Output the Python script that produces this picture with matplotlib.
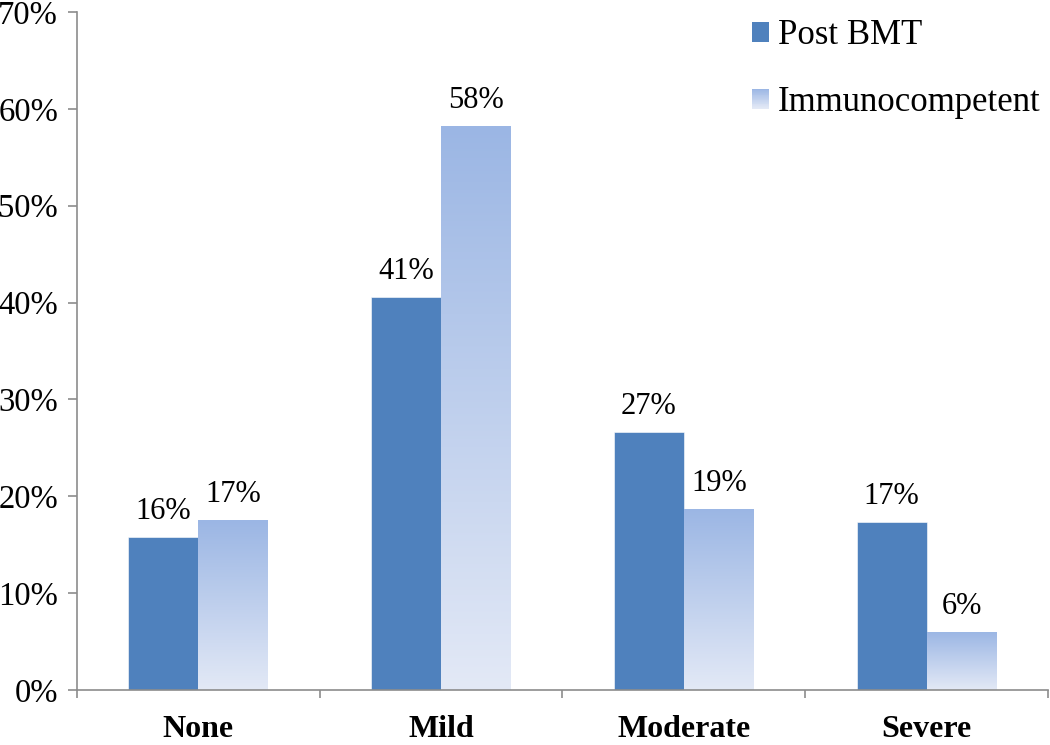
import numpy as np
import matplotlib
matplotlib.use("Agg")
import matplotlib.pyplot as plt
from matplotlib.colors import LinearSegmentedColormap
from matplotlib.patches import Rectangle, Patch
from matplotlib.legend_handler import HandlerBase

categories = ["None", "Mild", "Moderate", "Severe"]
post_bmt = [15.8, 40.6, 26.6, 17.3]
immuno = [17.5, 58.2, 18.7, 6.0]
post_labels = ["16%", "41%", "27%", "17%"]
immuno_labels = ["17%", "58%", "19%", "6%"]
yticks = [0, 10, 20, 30, 40, 50, 60, 70]
ytick_labels = ["0%", "10%", "20%", "30%", "40%", "50%", "60%", "70%"]
series_names = ["Post BMT", "Immunocompetent"]

plt.rcParams['font.family'] = ['Liberation Serif', 'DejaVu Serif']

solid = "#4F81BD"
grad = LinearSegmentedColormap.from_list("grad", ["#E3E9F6", "#9BB6E4"])
axis_gray = "#8C8C8C"


class GradHandler(HandlerBase):
    # legend key drawn as a stack of thin strips, light at the bottom
    def create_artists(self, legend, orig_handle, xdescent, ydescent,
                       width, height, fontsize, trans):
        n = 24
        arts = []
        for i in range(n):
            r = Rectangle((-xdescent, -ydescent + height * i / n), width, height / n * 1.05,
                          facecolor=grad(i / (n - 1)), edgecolor="none", transform=trans)
            arts.append(r)
        return arts


fig = plt.figure(figsize=(10.5, 7.45), dpi=100)
ax = fig.add_axes([0.0733, 0.0738, 0.9247, 0.9102])

x = np.arange(len(categories))
w = 0.288
bars1 = ax.bar(x - w / 2, post_bmt, w, color=solid, edgecolor="white", linewidth=0.4, zorder=2)
bars2 = ax.bar(x + w / 2, immuno, w, facecolor="none", edgecolor="none", zorder=2)

img = np.linspace(0, 1, 256).reshape(-1, 1)
for r in bars2:
    x0, y0 = r.get_x(), r.get_y()
    im = ax.imshow(img, cmap=grad, origin="lower", aspect="auto", interpolation="bilinear",
                   extent=[x0, x0 + r.get_width(), y0, y0 + r.get_height()], zorder=2)
    im.set_clip_path(r)

for bars, labels in [(bars1, post_labels), (bars2, immuno_labels)]:
    for r, lab in zip(bars, labels):
        ax.annotate(lab, (r.get_x() + r.get_width() / 2, r.get_height()),
                    xytext=(0, 13), textcoords="offset points",
                    ha="center", va="baseline", fontsize=22)

ax.set_xlim(-0.5, len(categories) - 0.5)
ax.set_ylim(0, 70)
ax.set_yticks(yticks)
ax.set_yticklabels(ytick_labels, fontsize=23.5)
ax.set_xticks(x)
ax.set_xticklabels(categories, fontsize=23, fontweight="bold")
ax.set_xticks(np.arange(-0.5, len(categories)), minor=True)

ax.tick_params(axis="x", which="major", length=0, pad=18)
ax.tick_params(axis="x", which="minor", length=6, width=1.2, color=axis_gray, direction="out")
ax.tick_params(axis="y", length=6.5, width=1.2, color=axis_gray, direction="out", pad=7)

for s in ["top", "right"]:
    ax.spines[s].set_visible(False)
for s in ["left", "bottom"]:
    ax.spines[s].set_color(axis_gray)
    ax.spines[s].set_linewidth(1.2)

handles = [Patch(facecolor=solid), Patch(facecolor=grad(1.0))]
leg = fig.legend(handles, series_names, loc="upper left",
                 bbox_to_anchor=(752 / 1050, 0.974), frameon=False, fontsize=25,
                 handlelength=0.5, handleheight=0.5, handletextpad=0.25,
                 labelspacing=0.97, borderpad=0, borderaxespad=0,
                 handler_map={handles[1]: GradHandler()})

fig.savefig("out.png", dpi=100)
